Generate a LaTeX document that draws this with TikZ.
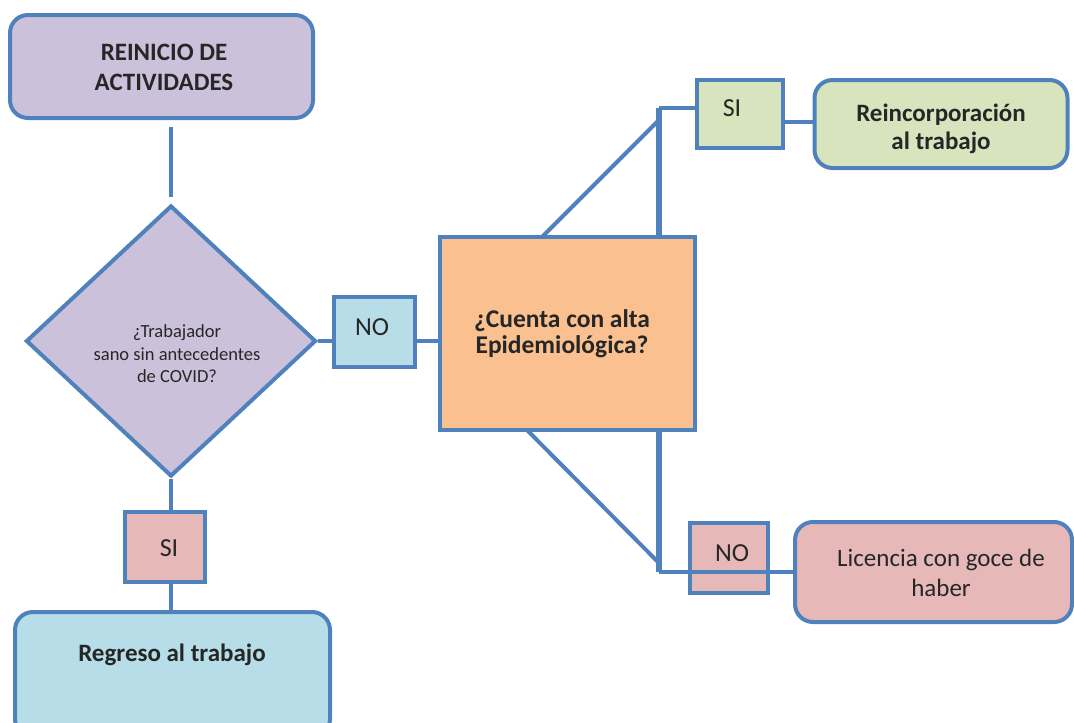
\documentclass[tikz,border=0pt]{standalone}
\usepackage{fontspec}
\setmainfont{Carlito}
\usetikzlibrary{shapes.geometric}
\definecolor{bord}{HTML}{4F81BD}
\definecolor{lav}{HTML}{CCC1DA}
\definecolor{pinkf}{HTML}{E6B9B8}
\definecolor{bluef}{HTML}{B7DEE8}
\definecolor{greenf}{HTML}{D7E4BD}
\definecolor{orangef}{HTML}{FAC090}
\tikzset{
  box/.style={draw=bord, line width=4pt, inner sep=0pt, align=center, text=black!85},
  rbox/.style={box, rounded corners=18pt},
  txt/.style={align=center, text=black!85, inner sep=0pt},
  lab/.style={txt, font=\fontsize{26}{28}\selectfont},
  conn/.style={draw=bord, line width=4pt},
  thickconn/.style={draw=bord, line width=6pt},
}
\begin{document}
\begin{tikzpicture}[x=1pt,y=-1pt]
\clip (0,0) rectangle (1074,723);
\useasboundingbox (0,0) rectangle (1074,723);
% nodes
\node[rbox, fill=lav, minimum width=303pt, minimum height=103pt] (reinicio) at (161.5,66.5) {};
\node[txt, font=\bfseries\fontsize{25}{30}\selectfont] (reintxt) at (164,67) {REINICIO DE\\ACTIVIDADES};
\node[box, shape=diamond, fill=lav, minimum width=290pt, minimum height=271pt] (diam) at (171,341) {};
\node[txt, font=\fontsize{18.5}{22.5}\selectfont] (diamtxt) at (177,354) {¿Trabajador\\sano sin antecedentes\\de COVID?};
\node[box, fill=pinkf, minimum width=80pt, minimum height=70pt] (si1) at (165,547) {};
\node[lab] (si1txt) at (169,548) {SI};
\node[rbox, fill=bluef, minimum width=315pt, minimum height=125pt] (regreso) at (172.5,674.5) {};
\node[txt, font=\bfseries\fontsize{25}{30}\selectfont] (regtxt) at (172,655) {Regreso al trabajo};
\node[box, fill=bluef, minimum width=81pt, minimum height=70pt] (no1) at (374.5,332) {};
\node[lab] (no1txt) at (372,327) {NO};
\node[box, fill=orangef, minimum width=255pt, minimum height=193pt] (orange) at (567.5,333.5) {};
\node[txt, font=\bfseries\fontsize{25.5}{26}\selectfont] (orangetxt) at (562,334) {¿Cuenta con alta\\Epidemiológica?};
\node[box, fill=greenf, minimum width=86pt, minimum height=68pt] (si2) at (740,114) {};
\node[lab] (si2txt) at (732,108) {SI};
\node[rbox, fill=greenf, minimum width=253pt, minimum height=88pt] (reinc) at (941,124) {};
\node[txt, font=\bfseries\fontsize{25}{28}\selectfont] (reinctxt) at (941,129) {Reincorporación\\al trabajo};
\node[box, fill=pinkf, minimum width=78pt, minimum height=70pt] (no2) at (729,558) {};
\node[lab] (no2txt) at (732,553) {NO};
\node[rbox, fill=pinkf, minimum width=277pt, minimum height=100pt] (lic) at (933.5,572) {};
\node[txt, font=\fontsize{25}{30}\selectfont] (lictxt) at (941,573) {Licencia con goce de\\haber};
% coordinates
\coordinate (tr) at (659,108);
\coordinate (br) at (659,572);
\coordinate (dt) at (659,120);
\coordinate (db) at (659,563);
\coordinate (ot) at (542,237);
\coordinate (ob) at (527,430);
% connectors
\draw[conn, shorten <=7pt, shorten >=7pt] (reinicio.south -| diam.north) -- (diam.north);
\draw[conn] (diam.south) -- (si1.north -| diam.south);
\draw[conn] (si1.south -| diam.south) -- (regreso.north -| diam.south);
\draw[conn] (diam.east) -- (no1.west |- diam.east);
\draw[conn] (no1.east |- diam.east) -- (orange.west |- diam.east);
\draw[thickconn] (orange.north -| tr) -- (tr);
\draw[conn] (tr) -- (si2.west |- tr);
\draw[conn] (ot) -- (dt);
\draw[conn] (si2.east |- 0,122) -- (reinc.west |- 0,122);
\draw[thickconn] (orange.south -| br) -- (br);
\draw[conn] (ob) -- (db);
\draw[conn] (br) -- (lic.west);
\end{tikzpicture}
\end{document}
